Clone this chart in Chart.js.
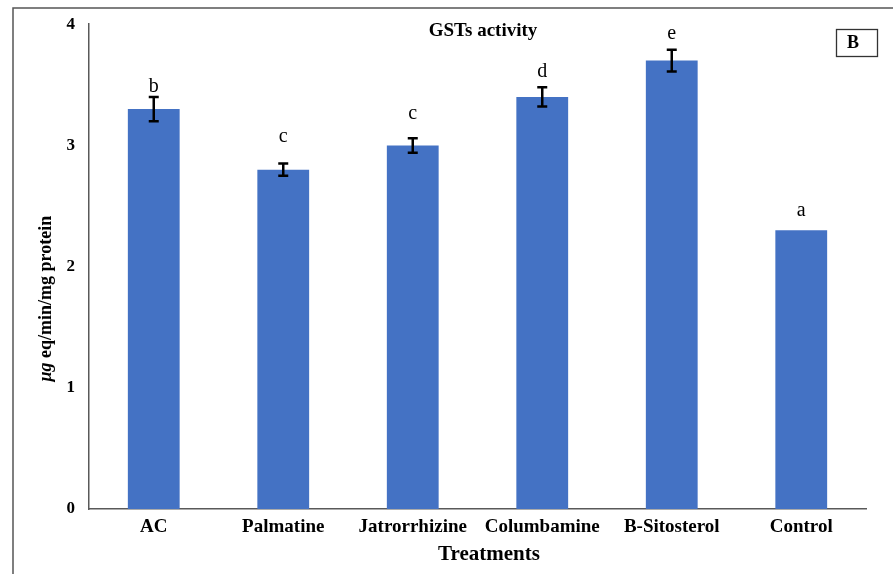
<!DOCTYPE html>
<html>
<head>
<meta charset="utf-8">
<title>GSTs activity</title>
<script src="https://cdn.jsdelivr.net/npm/chart.js@4.4.1/dist/chart.umd.min.js"></script>
<style>
  html, body { margin: 0; padding: 0; background: #ffffff; }
  #wrap { width: 893px; height: 574px; }
</style>
</head>
<body>
<div id="wrap"><canvas id="c" width="893" height="574"></canvas></div>
<script>
// Treatments and mean GST activity (µg eq/min/mg protein)
const treatments = ['AC', 'Palmatine', 'Jatrorrhizine', 'Columbamine', 'B-Sitosterol', 'Control'];
const gstActivity = [3.3, 2.8, 3.0, 3.4, 3.7, 2.3];
const gstError = [0.10, 0.05, 0.06, 0.08, 0.09, 0];
const significance = ['b', 'c', 'c', 'd', 'e', 'a'];
const yTicks = [0, 1, 2, 3, 4];

const SERIF = "'Liberation Serif', 'Times New Roman', serif";
const BAR_BLUE = '#4472C4';
const AXIS_GREY = '#595959';

// gap (px) between the top of each error bar and its letter
const letterGap = [5, 22, 19, 10, 11, 14];

const decorations = {
  id: 'decorations',
  afterDatasetsDraw(chart) {
    const ctx = chart.ctx;
    const y = chart.scales.y;
    const meta = chart.getDatasetMeta(0);
    ctx.save();

    // error bars
    ctx.strokeStyle = '#000000';
    ctx.lineWidth = 2.5;
    meta.data.forEach((bar, i) => {
      const e = gstError[i];
      if (!e) return;
      const cx = bar.x;
      const yTop = y.getPixelForValue(gstActivity[i] + e);
      const yBot = y.getPixelForValue(gstActivity[i] - e);
      ctx.beginPath();
      ctx.moveTo(cx, yTop); ctx.lineTo(cx, yBot);
      ctx.moveTo(cx - 5, yTop); ctx.lineTo(cx + 5, yTop);
      ctx.moveTo(cx - 5, yBot); ctx.lineTo(cx + 5, yBot);
      ctx.stroke();
    });

    // significance letters
    ctx.fillStyle = '#000000';
    ctx.font = '20px ' + SERIF;
    ctx.textAlign = 'center';
    ctx.textBaseline = 'alphabetic';
    meta.data.forEach((bar, i) => {
      const top = y.getPixelForValue(gstActivity[i] + gstError[i]);
      ctx.fillText(significance[i], bar.x, top - letterGap[i]);
    });
    ctx.restore();
  },
  afterDraw(chart) {
    const ctx = chart.ctx;
    const area = chart.chartArea;
    ctx.save();

    // outer frame (top and left edges)
    ctx.strokeStyle = '#555555';
    ctx.lineWidth = 1.5;
    ctx.beginPath();
    ctx.moveTo(13, 574); ctx.lineTo(13, 8); ctx.lineTo(893, 8);
    ctx.stroke();

    // chart title
    ctx.fillStyle = '#000000';
    ctx.font = 'bold 19px ' + SERIF;
    ctx.textAlign = 'center';
    ctx.textBaseline = 'middle';
    ctx.fillText('GSTs activity', 483, 31);

    // panel tag
    ctx.strokeStyle = '#333333';
    ctx.lineWidth = 1.3;
    ctx.strokeRect(836.5, 29.5, 41, 27);
    ctx.font = 'bold 18px ' + SERIF;
    ctx.textAlign = 'left';
    ctx.fillText('B', 847, 43);

    // x-axis title
    ctx.font = 'bold 21px ' + SERIF;
    ctx.textAlign = 'center';
    ctx.fillText('Treatments', 489, 555);

    // y-axis title with italic unit prefix
    ctx.translate(46, (area.top + area.bottom) / 2 + 32);
    ctx.rotate(-Math.PI / 2);
    const pre = 'μg';
    const rest = ' eq/min/mg protein';
    ctx.font = 'italic bold 18px ' + SERIF;
    const wPre = ctx.measureText(pre).width;
    ctx.font = 'bold 18px ' + SERIF;
    const wRest = ctx.measureText(rest).width;
    const start = -(wPre + wRest) / 2;
    ctx.textAlign = 'left';
    ctx.font = 'italic bold 18px ' + SERIF;
    ctx.fillText(pre, start, 0);
    ctx.font = 'bold 18px ' + SERIF;
    ctx.fillText(rest, start + wPre, 0);
    ctx.restore();
  }
};

new Chart(document.getElementById('c'), {
  type: 'bar',
  data: {
    labels: treatments,
    datasets: [{
      data: gstActivity,
      backgroundColor: BAR_BLUE,
      borderWidth: 0,
      barPercentage: 0.4,
      categoryPercentage: 1.0
    }]
  },
  options: {
    responsive: false,
    devicePixelRatio: 1,
    animation: false,
    layout: { padding: { top: 21, right: 27, left: 0, bottom: 0 } },
    plugins: {
      legend: { display: false },
      tooltip: { enabled: false },
      title: { display: false }
    },
    scales: {
      x: {
        grid: { display: false, drawTicks: false },
        border: { display: true, color: AXIS_GREY, width: 1.5 },
        ticks: {
          color: '#000000',
          font: { family: SERIF, size: 19, weight: 'bold' },
          padding: 7,
          maxRotation: 0,
          autoSkip: false
        },
        afterFit(scale) { scale.height = 65; }
      },
      y: {
        min: 0,
        max: 4,
        grid: { display: false, drawTicks: false },
        border: { display: true, color: AXIS_GREY, width: 1.5 },
        afterBuildTicks(scale) { scale.ticks = yTicks.map(v => ({ value: v })); },
        ticks: {
          color: '#000000',
          font: { family: SERIF, size: 17, weight: 'bold' },
          padding: 14
        },
        afterFit(scale) { scale.width = 89; }
      }
    }
  },
  plugins: [decorations]
});
</script>
</body>
</html>
